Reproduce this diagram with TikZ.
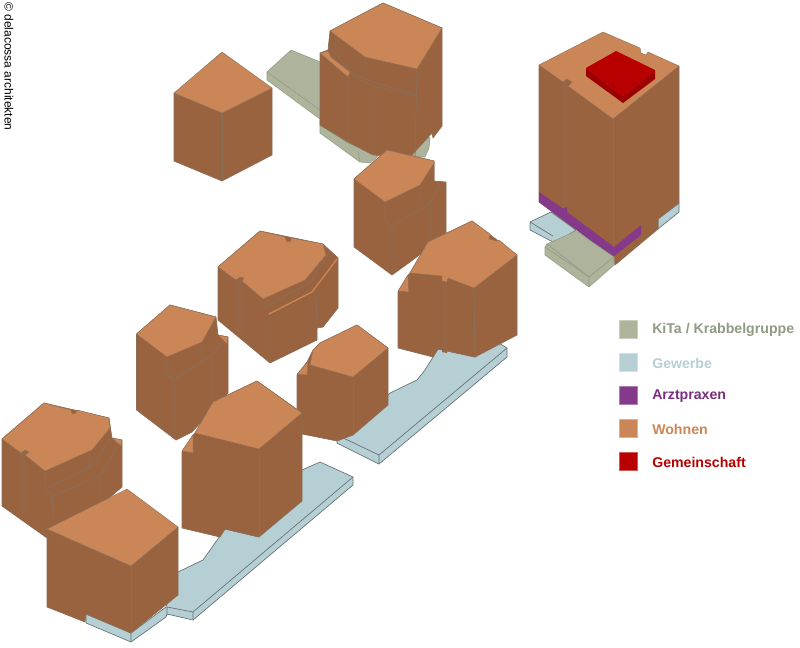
\documentclass[tikz,border=0pt]{standalone}
\usepackage{fontspec}
\setmainfont{Liberation Sans}
\definecolor{wallc}{HTML}{9A6340}
\definecolor{roofc}{HTML}{CB8658}
\definecolor{linec}{HTML}{8B6E58}
\definecolor{kitac}{HTML}{AEB49C}
\definecolor{kitat}{HTML}{8F9B82}
\definecolor{gewc}{HTML}{B6CFD4}
\definecolor{arztc}{HTML}{84398A}
\definecolor{arztt}{HTML}{7A2E82}
\definecolor{gemc}{HTML}{B80000}
\tikzset{wall/.style={fill=wallc,draw=linec,line width=.5pt,line join=round}}
\tikzset{roof/.style={fill=roofc,draw=linec,line width=.3pt,line join=round}}
\tikzset{groove/.style={draw=linec,line width=.6pt}}
\tikzset{slot/.style={fill=wallc!75!linec}}
\tikzset{kita/.style={fill=kitac,draw=kitat,line width=.4pt,line join=round}}
\tikzset{gew/.style={fill=gewc,draw=black!45!gewc,line width=.5pt,line join=round}}
\tikzset{sw/.style={minimum size=13.5pt,inner sep=0pt,draw=white!35!#1,fill=#1,line width=.3pt}}
\tikzset{lab/.style={anchor=west,inner sep=0pt,font=\bfseries\fontsize{10.6}{12}\selectfont,text=#1}}
\begin{document}
\begin{tikzpicture}[x=0.75pt,y=-0.75pt]
                \useasboundingbox[fill=white] (0,0) rectangle (800,647);
                % credit
                \node[rotate=-90,anchor=west,inner sep=0pt,font=\fontsize{9}{10}\selectfont] (credit) at (9,2) {© delacossa architekten};
                % top left cube
                \path[wall] (174,93) -- (222,113) -- (272,88) -- (272,155) -- (222,181) -- (174,161) -- cycle;
                \draw[groove] (222,113) -- (222,181);
                \path[roof] (222,52) -- (272,88) -- (222,113) -- (174,93) -- cycle;
                % green slab behind top block
                \path[kita] (267,72) -- (291,50) -- (330,66) -- (330,125) -- (320,119) -- (267,80) -- cycle;
                \draw[kitat,line width=.4pt] (267,72) -- (320,110);
                \path[kita] (320,120) -- (320,133) -- (360,162) -- (370,163) -- (385,150) -- (420,157) -- (425,157) -- (429,148) -- (430,138) -- (420,130) -- cycle;
                \draw[kitat,line width=.4pt] (320,125) -- (348,143) -- (378,155) (358,152) -- (360,162);
                % top block
                \path[wall] (320,53) -- (328,50) -- (330,31) -- (383,3) -- (442,28) -- (442,126) -- (433,138) -- (432,133) -- (410,157) -- (373,155) -- (348,142) -- (320,125) -- cycle;
                \path[roof] (320,53) -- (328,51) -- (331,57) -- (350,72) -- (348,77) -- cycle;
                \draw[groove] (330,47) -- (352,73) -- (373,82) -- (416,95);
                \draw[groove] (335,35) -- (335,50) (365,57) -- (365,76) (417,69) -- (415,157);
                \draw[groove] (348,77) -- (348,142) (373,85) -- (373,155) (352,76) -- (373,86) -- (415,96);
                \path[roof] (383,3) -- (442,28) -- (417,69) -- (365,57) -- (330,31) -- cycle;
                % block below it
                \path[wall] (354,179) -- (387,150) -- (434,161) -- (434,181) -- (446,182) -- (446,235) -- (410,262) -- (392,275) -- (354,247) -- cycle;
                \draw[groove] (434,161) -- (434,181) (420,185) -- (420,203) (385,202) -- (386,222) (392,228) -- (392,275) (430,200) -- (430,247);
                \draw[groove] (386,222) -- (392,226) -- (430,204) -- (440,184);
                \path[roof] (387,150) -- (434,161) -- (434,163) -- (420,185) -- (385,202) -- (354,179) -- cycle;
                % blue slab right
                \path[gew] (337,435) -- (353,435) -- (390,393) -- (417,380) -- (425,370) -- (438,349) -- (475,357) -- (497,342) -- (507,348) -- (507,357) -- (379,464) -- (337,443) -- cycle;
                \draw[black!45!gewc,line width=.5pt] (337,435) -- (379,455) -- (507,348) (379,455) -- (379,464);
                % block with notch in the centre right
                \path[wall] (398,292) -- (408,275) -- (410,273) -- (428,242) -- (472,221) -- (517,255) -- (517,335) -- (475,357) -- (438,349) -- (433,357) -- (398,348) -- cycle;
                \path[roof] (398,291) -- (408,275) -- (409,292) -- cycle;
                \draw[groove] (474,288) -- (475,357) (409,274) -- (409,292);
                \fill[slot] (442,279) -- (447,279) -- (447,353) -- (442,352) -- cycle;
                \path[roof] (472,221) -- (490,234) -- (489,239) -- (497,241) -- (499,240) -- (517,255) -- (474,288) -- (448,278) -- (447,282) -- (442,281) -- (442,276) -- (410,273) -- (428,242) -- cycle;
                % large block centre left
                \path[wall] (218,267) -- (260,231) -- (323,244) -- (338,258) -- (338,308) -- (323,327) -- (317,328) -- (317,340) -- (270,363) -- (218,320) -- cycle;
                \draw[groove] (269,315) -- (269,362) (316,292) -- (317,328) (265,292) -- (265,310);
                \draw[groove] (265,307) -- (311,282) -- (329,252);
                \draw[roofc,line width=1pt] (269,314) -- (312,292) -- (337,259);
                \fill[slot] (236,280) -- (241,279) -- (241,336) -- (236,332) -- cycle;
                \path[roof] (260,231) -- (285,237) -- (287,242) -- (291,241) -- (291,238) -- (323,244) -- (326,255) -- (305,280) -- (263,299) -- (242,281) -- (244,278) -- (240,277) -- (236,280) -- (218,267) -- cycle;
                % small block by the blue slab
                \path[wall] (297,375) -- (307,362) -- (313,350) -- (320,343) -- (357,325) -- (388,348) -- (388,405) -- (353,435) -- (337,441) -- (297,433) -- cycle;
                \path[roof] (297,374) -- (308,362) -- (307,375) -- cycle;
                \draw[groove] (353,377) -- (353,435);
                \path[roof] (320,343) -- (357,325) -- (388,348) -- (353,377) -- (310,365) -- (313,350) -- cycle;
                % left block
                \path[wall] (136.5,334) -- (170,305) -- (216,317) -- (218,335) -- (228,337) -- (228,393) -- (192,432) -- (176,440) -- (136.5,410) -- cycle;
                \draw[groove] (167,357) -- (167,375) -- (175,382) -- (175,440) (212,355) -- (212,400);
                \draw[groove] (167,374) -- (175,379) -- (212,355) -- (225,339) (202,342) -- (202,362);
                \path[roof] (218,335) -- (228,337) -- (227,344) -- cycle;
                \path[roof] (170,305) -- (216,317) -- (202,342) -- (167,357) -- (136.5,334) -- cycle;
                % long blue slab
                \path[gew] (86,614) -- (131,633) -- (166,607) -- (178,572) -- (203,560) -- (225,529) -- (259,537) -- (302,470) -- (320,462) -- (353,477) -- (353,485) -- (193,620) -- (167,614) -- (166,617) -- (131,642) -- (86,623) -- cycle;
                \draw[black!45!gewc,line width=.5pt] (167,607) -- (193,612) -- (353,477) (193,612) -- (193,620) (131,633) -- (131,642) (167,607) -- (167,614);
                % tall block front
                \path[wall] (182,452) -- (193,435) -- (195,433) -- (213,402) -- (257,381) -- (302,413) -- (302,501) -- (259,537) -- (225,529) -- (220,537) -- (182,528) -- cycle;
                \path[roof] (182,451) -- (193,435) -- (193,453) -- cycle;
                \draw[groove] (259,449) -- (259,537);
                \path[roof] (213,402) -- (257,381) -- (302,413) -- (259,449) -- (195,433) -- cycle;
                % lower left block
                \path[wall] (2,439) -- (44,403) -- (109,418) -- (112,438) -- (122,440) -- (122,487) -- (60,540) -- (47,538) -- (2,506) -- cycle;
                \draw[groove] (45,471) -- (46,490) -- (52,495) -- (54,520) (90,450) -- (88,470) (100,475) -- (100,505);
                \draw[groove] (46,488) -- (90,468) -- (110,440) (50,497) -- (100,476) -- (118,445);
                \fill[slot] (20,452) -- (25,451) -- (25,515) -- (20,513) -- cycle;
                \path[roof] (112,438) -- (122,440) -- (121,446) -- cycle;
                \path[roof] (44,403) -- (71,410) -- (72,414) -- (76,413) -- (77,410) -- (109,418) -- (110,428) -- (92,450) -- (45,471) -- (25,455) -- (29,452) -- (25,450) -- (21,453) -- (2,439) -- cycle;
                % front block
                \path[wall] (47,529) -- (131,566) -- (178,527) -- (178,595) -- (131,633) -- (86,614) -- (85,622) -- (47,607) -- cycle;
                \draw[groove] (131,566) -- (131,633);
                \path[roof] (127,489) -- (178,527) -- (131,566) -- (47,529) -- cycle;
                % right tower, slabs first
                \path[gew] (530,222) -- (551,212) -- (576,230) -- (555,243) -- (530,230) -- cycle;
                \draw[black!45!gewc,line width=.5pt] (530,222) -- (553,236);
                \path[gew] (658,219) -- (679,203) -- (679,212) -- (658,229) -- cycle;
                \path[wall] (539,65) -- (565,70) -- (613,100) -- (679,66) -- (679,203) -- (658,219) -- (658,229) -- (615,265) -- (613,257) -- (539,202) -- cycle;
                \fill[arztc] (539,192) -- (562,208) -- (567,207) -- (567,212) -- (614,247) -- (641,225) -- (641,235) -- (613,257) -- (539,202) -- cycle;
                \fill[slot] (562,82) -- (567,79) -- (567,207) -- (562,208) -- cycle;
                \draw[groove] (613,119) -- (613,247);
                \path[roof] (603,32) -- (640,48) -- (641,53) -- (646,55) -- (648,52) -- (679,66) -- (613,119) -- (568,86) -- (572,82) -- (567,79) -- (563,82) -- (539,65) -- cycle;
                % box on the tower
                \fill[gemc!85!black] (586,68) -- (623,96) -- (655,70) -- (655,79) -- (623,103) -- (586,76) -- cycle;
                \fill[gemc] (616,51) -- (655,70) -- (623,96) -- (586,68) -- cycle;
                \path[kita] (547,244) -- (576,231) -- (614,257) -- (589,277) -- cycle;
                \path[kita] (545,247) -- (547,244) -- (589,277) -- (614,257) -- (614,265) -- (589,287) -- (545,255) -- cycle;
                \draw[kitat,line width=.4pt] (589,277) -- (589,287) (545,247) -- (589,277);
                % legend
                \node[sw=kitac] (swkita) at (628,329) {};
                \node[sw=gewc] (swgew) at (628,362) {};
                \node[sw=arztc] (swarzt) at (628,395) {};
                \node[sw=roofc] (swwohn) at (628,428) {};
                \node[sw=gemc] (swgem) at (628,461) {};
                \node[lab=kitat] (lkita) at (652,330) {KiTa / Krabbelgruppe};
                \node[lab=gewc] (lgew) at (652,363) {Gewerbe};
                \node[lab=arztt] (larzt) at (652,396) {Arztpraxen};
                \node[lab=roofc] (lwohn) at (652,429) {Wohnen};
                \node[lab=gemc] (lgem) at (652,462) {Gemeinschaft};
            \end{tikzpicture}
\end{document}
